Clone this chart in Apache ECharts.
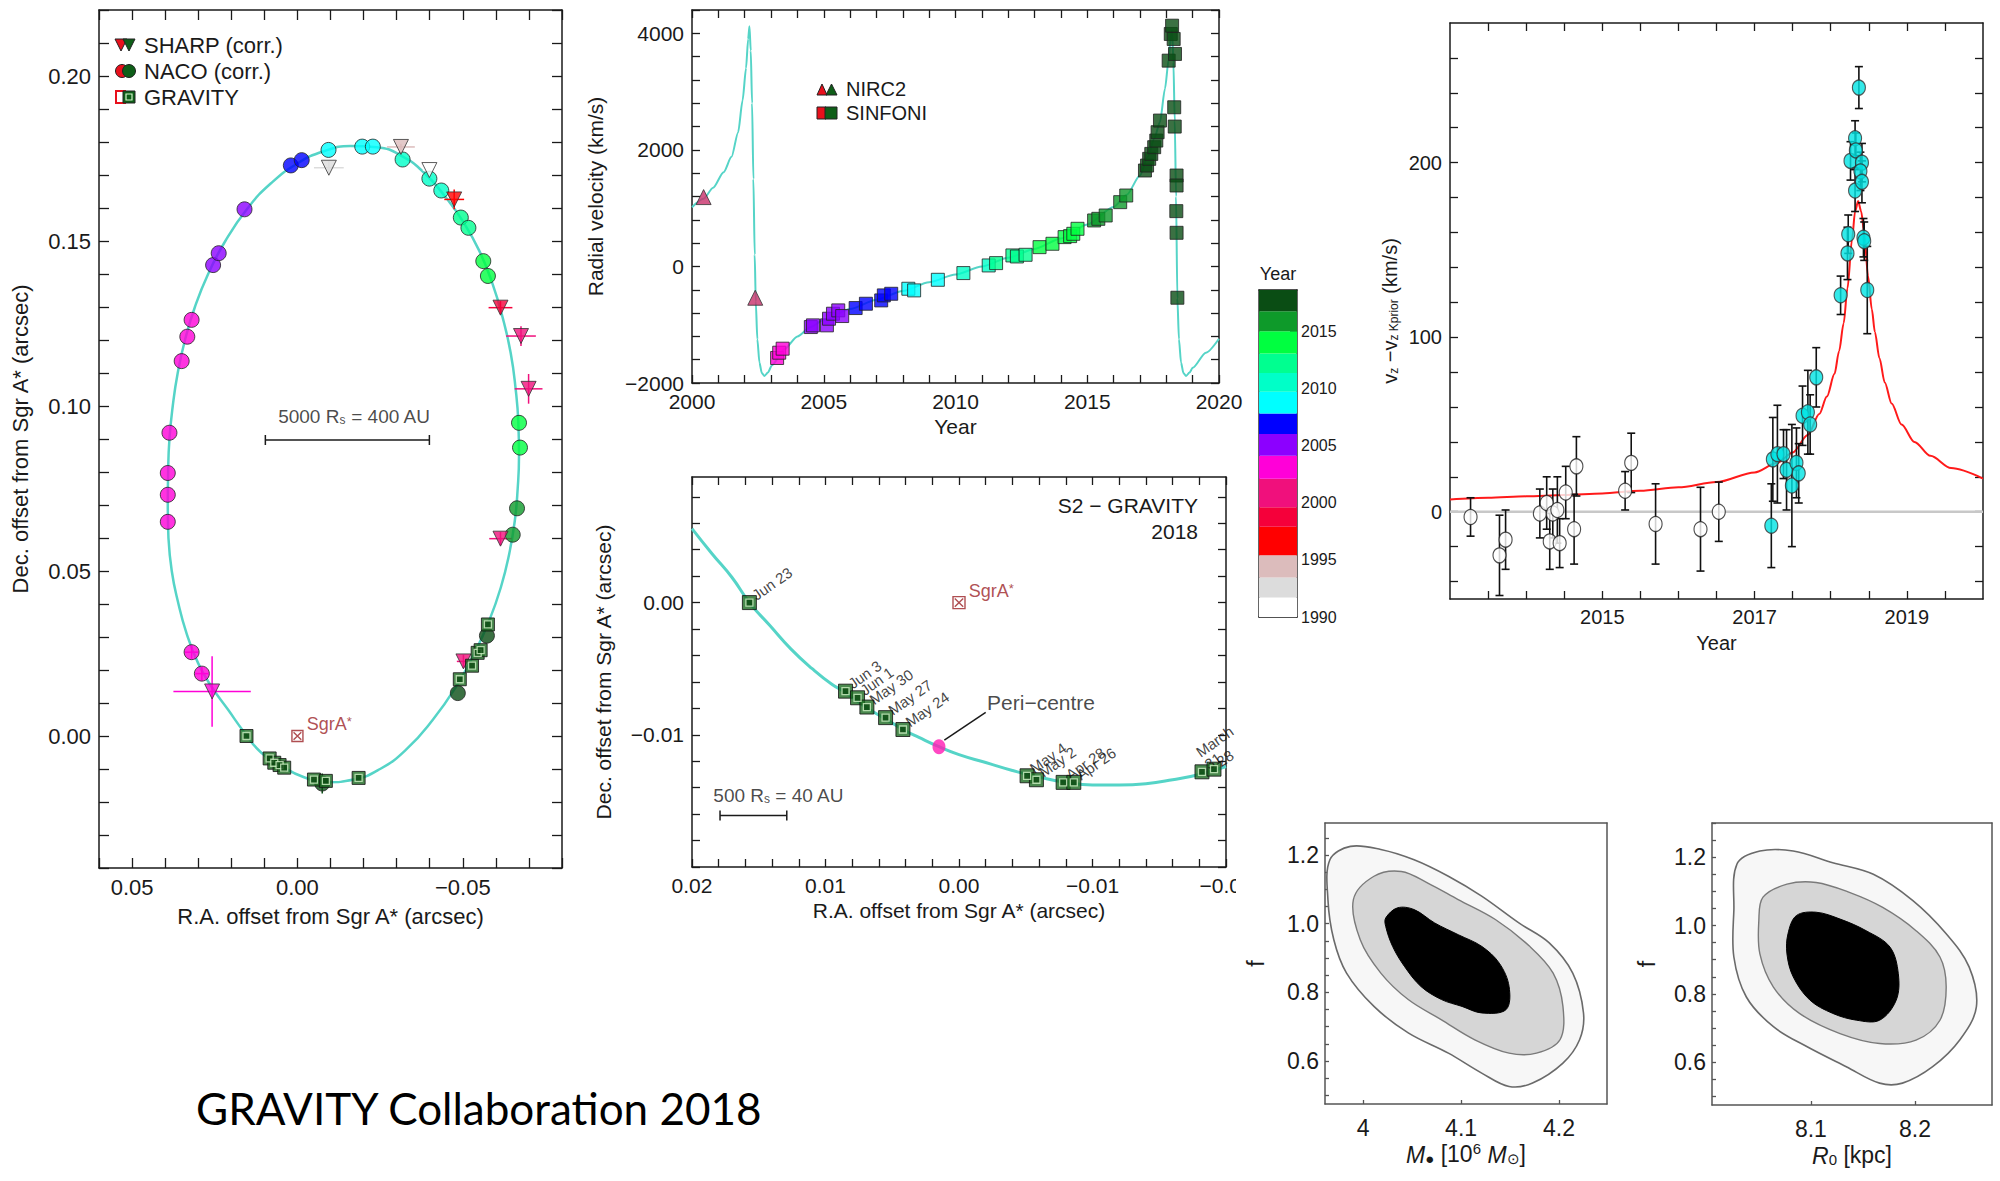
<!DOCTYPE html>
<html>
<head>
<meta charset="utf-8">
<script src="https://cdn.jsdelivr.net/npm/echarts@6/dist/echarts.min.js"></script>
<style>
  html, body { margin: 0; padding: 0; background: #fff; }
  #chart { width: 2000px; height: 1181px; }
</style>
</head>
<body>
<div id="chart"></div>
<script>
// ---- colour bar: observing year -> colour ----
var yearBands = [
  [1990, 1991.7, '#ffffff'], [1991.7, 1993.45, '#dcdcdc'], [1993.45, 1995.4, '#dcbcbc'],
  [1995.4, 1997.9, '#ff0000'], [1997.9, 1999.6, '#f5003a'], [1999.6, 2002.1, '#f0107c'],
  [2002.1, 2004.1, '#ff00d8'], [2004.1, 2006.0, '#8c00ff'], [2006.0, 2007.8, '#0000ff'],
  [2007.8, 2009.7, '#00ffff'], [2009.7, 2011.35, '#00ffc8'], [2011.35, 2013.05, '#00ff90'],
  [2013.05, 2015.0, '#00ff40'], [2015.0, 2016.75, '#0e9a2a'], [2016.75, 2018.6, '#0a4d14']
];
var yearLabels = [1990, 1995, 2000, 2005, 2010, 2015];

// ---- S2 orbit on the sky (R.A., Dec. offset in arcsec) ----
var orbitCurve = [
  [0.0390, 0.0600], [0.0392, 0.0700], [0.0391, 0.0800], [0.0387, 0.0900], [0.0377, 0.1000],
  [0.0362, 0.1100], [0.0340, 0.1200], [0.0310, 0.1300], [0.0270, 0.1400], [0.0218, 0.1500],
  [0.0150, 0.1600], [0.0080, 0.1675], [0.0000, 0.1735], [-0.0080, 0.1772], [-0.0160, 0.1788],
  [-0.0240, 0.1784], [-0.0320, 0.1755], [-0.0390, 0.1700], [-0.0450, 0.1630], [-0.0500, 0.1560],
  [-0.0550, 0.1470], [-0.0590, 0.1370], [-0.0620, 0.1270], [-0.0645, 0.1160], [-0.0660, 0.1050],
  [-0.0668, 0.0950], [-0.0670, 0.0850], [-0.0666, 0.0750], [-0.0657, 0.0650], [-0.0640, 0.0550],
  [-0.0615, 0.0450], [-0.0580, 0.0350], [-0.0535, 0.0250], [-0.0480, 0.0150], [-0.0410, 0.0050],
  [-0.0330, -0.0040], [-0.0250, -0.0100], [-0.0170, -0.0132], [-0.0090, -0.0140], [-0.0020, -0.0125],
  [0.0050, -0.0090], [0.0110, -0.0050], [0.0160, 0.0010], [0.0210, 0.0080], [0.0260, 0.0150],
  [0.0300, 0.0220], [0.0335, 0.0310], [0.0362, 0.0410], [0.0380, 0.0500], [0.0390, 0.0600]
];
// NACO: [ra, dec, year]
var nacoPoints = [
  [0.0392, 0.0649, 2002.7], [0.0392, 0.0731, 2002.8], [0.0392, 0.0797, 2003.0], [0.0387, 0.0919, 2003.3],
  [0.0350, 0.1136, 2003.5], [0.0333, 0.1210, 2003.6], [0.0320, 0.1261, 2003.7], [0.0320, 0.0254, 2002.5],
  [0.0289, 0.0189, 2002.4], [0.0255, 0.1427, 2004.4], [0.0238, 0.1463, 2004.6], [0.0160, 0.1596, 2005.4],
  [0.0020, 0.1729, 2006.5], [-0.0013, 0.1745, 2007.2], [-0.0094, 0.1776, 2008.3], [-0.0196, 0.1786, 2008.8],
  [-0.0228, 0.1786, 2009.2], [-0.0318, 0.1747, 2010.4], [-0.0399, 0.1689, 2011.0], [-0.0435, 0.1653, 2011.3],
  [-0.0494, 0.1571, 2012.2], [-0.0517, 0.1540, 2012.5], [-0.0562, 0.1439, 2013.3], [-0.0576, 0.1394, 2013.6],
  [-0.0670, 0.0949, 2014.6], [-0.0673, 0.0874, 2014.8], [-0.0664, 0.0690, 2015.6], [-0.0651, 0.0610, 2016.0],
  [-0.0573, 0.0304, 2017.2], [-0.0485, 0.0130, 2017.5], [-0.0075, -0.0144, 2018.3]
];
// error crosses on a few NACO points: [ra, dec, year, ra err, dec err]
var nacoErr = [
  [0.0320, 0.0254, 2002.5, 0.0020, 0.0020], [0.0289, 0.0189, 2002.4, 0.0020, 0.0020],
  [-0.0075, -0.0144, 2018.3, 0.0010, 0.0030]
];
// SHARP: [ra, dec, year, ra err, dec err]
var sharpPoints = [
  [-0.0095, 0.1722, 1992.6, 0.0045, 0.0020], [-0.0313, 0.1785, 1994.0, 0.0042, 0.0010],
  [-0.0399, 0.1715, 1991.0, 0.0020, 0.0010], [-0.0474, 0.1626, 1996.5, 0.0030, 0.0030],
  [-0.0614, 0.1298, 1999.0, 0.0036, 0.0020], [-0.0676, 0.1212, 1999.7, 0.0045, 0.0030],
  [-0.0699, 0.1052, 2000.0, 0.0042, 0.0045], [-0.0614, 0.0598, 2000.8, 0.0034, 0.0020],
  [-0.0502, 0.0226, 2001.6, 0.0020, 0.0020], [0.0258, 0.0135, 2002.4, 0.0117, 0.0107]
];
var gravityPoints = [
  [0.0154, 0.0000], [0.0084, -0.0068], [0.0070, -0.0081], [0.0054, -0.0088], [0.0040, -0.0096],
  [-0.0050, -0.0132], [-0.0086, -0.0136], [-0.0185, -0.0127], [-0.0491, 0.0172], [-0.0528, 0.0213],
  [-0.0545, 0.0252], [-0.0554, 0.0260], [-0.0576, 0.0338]
];
var sgrA = [[0, 0]];
var orbitScale = [[0.0097, -0.0399, 0.0897]];   // x from, x to, y
var orbitScaleText = [[-0.0172, 0.0968]];

// ---- radial velocity (year, km/s) ----
var rvModel = [
  [2000.0, 1017], [2000.44, 1160], [2000.8, 1350], [2001.2, 1617], [2001.5, 1880], [2001.75, 2300],
  [2001.92, 2850], [2002.05, 3400], [2002.13, 3900], [2002.18, 4120], [2002.23, 3700], [2002.28, 2800],
  [2002.33, 1500], [2002.38, 200], [2002.42, -600], [2002.48, -1250], [2002.56, -1650], [2002.65, -1830],
  [2002.75, -1880], [2002.88, -1820], [2003.03, -1700], [2003.5, -1420], [2004.0, -1200], [2004.5, -1040],
  [2005.0, -920], [2006.0, -730], [2007.0, -570], [2008.0, -420], [2009.0, -270], [2010.0, -140],
  [2011.0, 0], [2012.0, 150], [2013.0, 300], [2014.0, 480], [2015.0, 720], [2016.0, 1020],
  [2016.5, 1230], [2017.0, 1560], [2017.3, 1880], [2017.55, 2200], [2017.76, 2480], [2017.95, 3050],
  [2018.09, 3550], [2018.17, 3950], [2018.22, 4050], [2018.27, 3500], [2018.32, 2500], [2018.37, 1200],
  [2018.42, -550], [2018.48, -1250], [2018.56, -1650], [2018.65, -1830], [2018.75, -1880],
  [2018.88, -1820], [2019.0, -1740], [2019.5, -1480], [2020.0, -1240]
];
var rvSinfoni = [
  [2003.23, -1571], [2003.31, -1480], [2003.44, -1411], [2004.51, -1040], [2004.59, -1011],
  [2005.12, -1011], [2005.20, -897], [2005.35, -811], [2005.55, -754], [2005.70, -851],
  [2006.21, -714], [2006.60, -640], [2007.18, -583], [2007.28, -497], [2007.56, -469],
  [2008.21, -383], [2008.43, -411], [2009.33, -229], [2010.30, -114], [2011.26, 17], [2011.54, 57],
  [2012.16, 189], [2012.33, 171], [2012.66, 200], [2013.19, 331], [2013.68, 389],
  [2014.14, 503], [2014.35, 520], [2014.47, 560], [2014.63, 646], [2015.26, 789], [2015.42, 817],
  [2015.70, 874], [2016.25, 1103], [2016.48, 1217], [2017.19, 1646], [2017.27, 1731], [2017.35, 1846],
  [2017.43, 1931], [2017.54, 2046], [2017.62, 2160], [2017.67, 2303], [2017.76, 2503],
  [2018.09, 3531], [2018.17, 3989], [2018.22, 4131], [2018.28, 3903], [2018.33, 3646],
  [2018.30, 2731], [2018.32, 2400], [2018.39, 1560], [2018.39, 1389], [2018.38, 949],
  [2018.39, 577], [2018.42, -537]
];
var rvNirc2 = [[2000.44, 1190], [2002.40, -537]];

// ---- S2 2018 pericentre passage (GRAVITY) ----
var s2Curve = [
  [0.0200, 0.0056], [0.0185, 0.0037], [0.0170, 0.0019], [0.0157, 0.0000], [0.0142, -0.0017],
  [0.0126, -0.0035], [0.0110, -0.0050], [0.0095, -0.0062], [0.0085, -0.0068], [0.0070, -0.0079],
  [0.0055, -0.0088], [0.0042, -0.0096], [0.0030, -0.0102], [0.0015, -0.0109], [0.0000, -0.0115],
  [-0.0020, -0.0121], [-0.0040, -0.0127], [-0.0060, -0.0132], [-0.0080, -0.0136], [-0.0100, -0.0138],
  [-0.0120, -0.0138], [-0.0140, -0.0137], [-0.0160, -0.0134], [-0.0180, -0.0130], [-0.0200, -0.0124]
];
var s2Points = [
  [0.0157, 0.0000], [0.0085, -0.0067], [0.0076, -0.0072], [0.0069, -0.0079], [0.0055, -0.0087],
  [0.0042, -0.0096], [-0.0051, -0.0131], [-0.0058, -0.0134], [-0.0078, -0.0136], [-0.0086, -0.0136],
  [-0.0182, -0.0128], [-0.0191, -0.0126]
];
var s2Dates = ['Jun 23', 'Jun 3', 'Jun 1', 'May 30', 'May 27', 'May 24', 'May 4', 'May 2',
  'Apr 28', 'Apr 26', 'March\n31', '28'];
var pericentre = [[0.0015, -0.0109]];
var periLeader = [[0.0011, -0.0104], [-0.0020, -0.0083]];
var periText = [[-0.0021, -0.00755]];
var s2Scale = [[0.0179, 0.0129, -0.0161]];
var s2ScaleText = [[0.0184, -0.0146]];

// ---- v_z residual w.r.t. Keplerian prior (year, km/s, error) ----
var vzOpen = [
  [2013.27, -3, 11], [2013.65, -25, 23], [2013.73, -16, 17], [2014.18, -1, 14], [2014.27, 5, 15],
  [2014.31, -17, 16], [2014.35, -1, 14], [2014.41, 1, 19], [2014.44, -18, 14], [2014.52, 11, 15],
  [2014.63, -10, 20], [2014.66, 26, 17], [2015.30, 12, 11], [2015.38, 28, 17], [2015.70, -7, 23],
  [2016.29, -10, 24], [2016.53, 0, 17]
];
var vzFilled = [
  [2017.22, -8, 24], [2017.24, 30, 24], [2017.30, 33, 28], [2017.38, 33, 14], [2017.42, 24, 23],
  [2017.49, 15, 35], [2017.55, 28, 20], [2017.58, 22, 17], [2017.63, 55, 17], [2017.70, 57, 24],
  [2017.73, 50, 17], [2017.81, 77, 17], [2018.13, 124, 11], [2018.22, 148, 15], [2018.23, 159, 11],
  [2018.26, 201, 11], [2018.32, 214, 10], [2018.33, 207, 10], [2018.32, 184, 12], [2018.37, 243, 12],
  [2018.41, 200, 11], [2018.39, 195, 11], [2018.41, 189, 12], [2018.43, 157, 11], [2018.44, 155, 11],
  [2018.48, 127, 25]
];
var vzModel = [
  [2013.0, 7], [2013.5, 8], [2014.0, 8.8], [2014.5, 9.6], [2015.0, 10.5], [2015.5, 12], [2016.0, 14],
  [2016.5, 17], [2017.0, 22.5], [2017.3, 28], [2017.5, 34], [2017.7, 44], [2017.85, 56], [2017.95, 66],
  [2018.05, 79], [2018.11, 92], [2018.17, 108], [2018.22, 128], [2018.28, 156], [2018.32, 172],
  [2018.36, 178], [2018.40, 172], [2018.44, 160], [2018.49, 135], [2018.54, 116], [2018.58, 103],
  [2018.64, 88], [2018.71, 74], [2018.80, 62], [2018.93, 50], [2019.1, 40], [2019.31, 32],
  [2019.58, 25], [2020.0, 19]
];
var vzZero = [[2013, 0], [2020, 0]];

// ---- posterior contours f vs M (10^6 Msun) and f vs R0 (kpc) ----
var massOuter = [
  [3.966, 1.186], [3.987, 1.225], [4.018, 1.216], [4.052, 1.186], [4.087, 1.138], [4.121, 1.080],
  [4.159, 1.002], [4.190, 0.944], [4.214, 0.856], [4.225, 0.740], [4.221, 0.662], [4.204, 0.594],
  [4.173, 0.536], [4.149, 0.526], [4.121, 0.565], [4.087, 0.623], [4.046, 0.682], [4.011, 0.759],
  [3.983, 0.856], [3.970, 0.953], [3.964, 1.070]
];
var massGrey = [
  [3.990, 1.070], [4.011, 1.138], [4.039, 1.152], [4.066, 1.118], [4.097, 1.070], [4.135, 1.012],
  [4.170, 0.934], [4.194, 0.856], [4.204, 0.759], [4.201, 0.662], [4.177, 0.623], [4.149, 0.623],
  [4.114, 0.662], [4.080, 0.720], [4.046, 0.779], [4.018, 0.856], [3.997, 0.953]
];
var massCore = [
  [4.023, 1.0165], [4.035, 1.046], [4.052, 1.041], [4.073, 1.002], [4.097, 0.968], [4.121, 0.934],
  [4.139, 0.885], [4.149, 0.817], [4.146, 0.750], [4.121, 0.740], [4.101, 0.759], [4.080, 0.779],
  [4.059, 0.817], [4.042, 0.876], [4.030, 0.934], [4.023, 0.992]
];
var r0Outer = [
  [8.029, 1.180], [8.051, 1.218], [8.083, 1.218], [8.121, 1.184], [8.160, 1.150], [8.198, 1.073],
  [8.230, 0.976], [8.252, 0.879], [8.259, 0.762], [8.243, 0.665], [8.217, 0.587], [8.188, 0.539],
  [8.166, 0.539], [8.134, 0.587], [8.096, 0.646], [8.064, 0.704], [8.038, 0.791], [8.026, 0.908],
  [8.026, 1.044]
];
var r0Grey = [
  [8.054, 1.083], [8.077, 1.121], [8.105, 1.126], [8.137, 1.097], [8.169, 1.053], [8.201, 0.985],
  [8.224, 0.908], [8.230, 0.820], [8.224, 0.723], [8.201, 0.665], [8.166, 0.655], [8.128, 0.684],
  [8.089, 0.743], [8.064, 0.820], [8.051, 0.917], [8.050, 1.015]
];
var r0Core = [
  [8.078, 0.976], [8.086, 1.029], [8.105, 1.039], [8.128, 1.019], [8.153, 0.985], [8.176, 0.937],
  [8.184, 0.859], [8.182, 0.782], [8.166, 0.723], [8.144, 0.723], [8.121, 0.743], [8.099, 0.782],
  [8.083, 0.850], [8.077, 0.917]
];

// ---- helpers ----
var INK = '#1a1a1a';
var FONT = 'Liberation Sans';
var CURVE = '#55d4c7';

function yearColor(y) {
  for (var i = 0; i < yearBands.length; i++) {
    if (y >= yearBands[i][0] && y < yearBands[i][1]) return yearBands[i][2];
  }
  return yearBands[yearBands.length - 1][2];
}
function steps(a, b, d) {
  var out = [];
  for (var k = 0; a + k * d <= b + 1e-9; k++) out.push(+(a + k * d).toFixed(6));
  return out;
}
function fixed(d) {
  return function (v) {
    var s = (+v).toFixed(d);
    if (/^-0\.?0*$/.test(s)) s = s.slice(1);
    return s.replace('-', '\u2212');
  };
}

// one axis of a framed panel; grid g owns x axes 2g (bottom), 2g+1 (top), y axes 2g (left), 2g+1 (right)
function axis(gi, pos, o) {
  var horiz = pos === 'bottom' || pos === 'top';
  var labelPos = o.labelPos || (horiz ? 'bottom' : 'left');
  var isMain = pos === labelPos;
  var showTicks = !!o.ticks && (o.mirror !== false || isMain);
  var ax = {
    type: 'value', gridIndex: gi, position: pos,
    min: o.min, max: o.max, inverse: !!o.inverse,
    splitLine: { show: false },
    axisLine: { show: true, onZero: false, lineStyle: { color: o.lineColor || INK, width: 1.5 } },
    axisTick: { show: showTicks, inside: true, length: o.tickLen || 8, customValues: o.ticks || [],
      lineStyle: { color: o.lineColor || INK, width: 1.3 } },
    axisLabel: { show: isMain && !!o.labels, customValues: o.labels || [], formatter: o.fmt,
      fontSize: o.fontSize || 21, fontFamily: FONT, color: INK, margin: o.margin || 8 }
  };
  if (o.name && pos === (o.namePos || labelPos)) {
    ax.name = o.name;
    ax.nameLocation = 'middle';
    ax.nameGap = o.nameGap;
    ax.nameTextStyle = { fontSize: o.nameSize || o.fontSize || 21, fontFamily: FONT, color: INK, rich: o.rich };
  }
  return ax;
}

var grids = [
  { left: 99, top: 10, width: 463, height: 858 },    // sky orbit
  { left: 692, top: 10, width: 527, height: 373 },   // radial velocity
  { left: 1259, top: 290, width: 38, height: 327 },  // year colour bar
  { left: 692, top: 477, width: 534, height: 390 },  // 2018 pericentre zoom
  { left: 1450, top: 23, width: 533, height: 576 },  // vz residual
  { left: 1325, top: 823, width: 282, height: 281 }, // f vs M
  { left: 1712, top: 823, width: 280, height: 282 }  // f vs R0
];

var sub = { fontSize: 12, fontFamily: FONT, color: INK, verticalAlign: 'bottom', lineHeight: 12 };
var contourRich = {
  i: { fontSize: 23, fontStyle: 'italic', fontFamily: FONT, color: INK, verticalAlign: 'bottom', lineHeight: 25 },
  b: { fontSize: 15, fontFamily: FONT, color: INK, verticalAlign: 'bottom', lineHeight: 14 },
  p: { fontSize: 15, fontFamily: FONT, color: INK, verticalAlign: 'top', lineHeight: 14 }
};
var panels = [
  { x: { min: -0.08, max: 0.06, inverse: true, ticks: steps(-0.08, 0.06, 0.01), labels: [-0.05, 0, 0.05],
         fmt: fixed(2), fontSize: 22, tickLen: 10, name: 'R.A. offset from Sgr A* (arcsec)', nameGap: 37 },
    y: { min: -0.04, max: 0.22, ticks: steps(-0.04, 0.22, 0.01), labels: steps(0, 0.2, 0.05),
         fmt: fixed(2), fontSize: 22, tickLen: 10, name: 'Dec. offset from Sgr A* (arcsec)', nameGap: 68 } },
  { x: { min: 2000, max: 2020, ticks: steps(2000, 2020, 1), labels: steps(2000, 2020, 5),
         fmt: String, name: 'Year', nameGap: 33 },
    y: { min: -2000, max: 4400, ticks: steps(-2000, 4400, 400), labels: [-2000, 0, 2000, 4000],
         fmt: fixed(0), name: 'Radial velocity (km/s)', nameGap: 86 } },
  { x: { min: 0, max: 1, name: 'Year', namePos: 'top', nameGap: 7, fontSize: 18 },
    y: { min: 1990, max: 2018.6, labelPos: 'right', mirror: false, ticks: steps(1992.5, 2017.5, 2.5),
         labels: yearLabels, fmt: String, fontSize: 16, tickLen: 7, margin: 4, lineColor: '#333' } },
  { x: { min: -0.02, max: 0.02, inverse: true, ticks: steps(-0.02, 0.02, 0.002),
         labels: [-0.02, -0.01, 0, 0.01, 0.02], fmt: fixed(2), name: 'R.A. offset from Sgr A* (arcsec)', nameGap: 33 },
    y: { min: -0.02, max: 0.0095, ticks: steps(-0.02, 0.008, 0.002), labels: [-0.01, 0],
         fmt: fixed(2), name: 'Dec. offset from Sgr A* (arcsec)', nameGap: 78 } },
  { x: { min: 2013, max: 2020, ticks: steps(2013.5, 2019.5, 0.5), labels: [2015, 2017, 2019],
         fmt: String, fontSize: 20, name: 'Year', nameGap: 34 },
    y: { min: -50, max: 280, ticks: steps(-40, 260, 20), labels: [0, 100, 200], fmt: String, fontSize: 20,
         nameGap: 50, name: '{a|v}{b|z}{a| \u2212v}{b|z Kprior}{a| (km/s)}',
         rich: { a: { fontSize: 20, fontFamily: FONT, color: INK, verticalAlign: 'bottom', lineHeight: 22 }, b: sub } } },
  { x: { min: 3.961, max: 4.249, ticks: [4, 4.1, 4.2], labels: [4, 4.1, 4.2],
         fmt: function (v) { return String(+(+v).toFixed(1)); },
         mirror: false, tickLen: 4, margin: 12, fontSize: 23, lineColor: '#555', nameGap: 37,
         name: '{i|M}{b|\u25CF} [10{p|6} {i|M}{b|\u2299}]', rich: contourRich },
    y: { min: 0.475, max: 1.293, ticks: steps(0.5, 1.25, 0.05), labels: [0.6, 0.8, 1.0, 1.2], fmt: fixed(1),
         mirror: false, tickLen: 4, margin: 6, fontSize: 23, lineColor: '#555', name: 'f', nameGap: 58 } },
  { x: { min: 8.005, max: 8.274, ticks: [8.1, 8.2], labels: [8.1, 8.2], fmt: fixed(1),
         mirror: false, tickLen: 4, margin: 12, fontSize: 23, lineColor: '#555', nameGap: 37,
         name: '{i|R}{b|0} [kpc]', rich: contourRich },
    y: { min: 0.475, max: 1.3, ticks: steps(0.5, 1.3, 0.05), labels: [0.6, 0.8, 1.0, 1.2], fmt: fixed(1),
         mirror: false, tickLen: 4, margin: 6, fontSize: 23, lineColor: '#555', name: 'f', nameGap: 54 } }
];

var xAxes = [], yAxes = [];
panels.forEach(function (p, gi) {
  xAxes.push(axis(gi, 'bottom', p.x), axis(gi, 'top', p.x));
  yAxes.push(axis(gi, 'left', p.y), axis(gi, 'right', p.y));
});

function onGrid(gi, s) { s.xAxisIndex = 2 * gi; s.yAxisIndex = 2 * gi; return s; }

function crossRender(params, api) {
  var x = api.value(0), y = api.value(1), xe = api.value(3), ye = api.value(4);
  var c = yearColor(api.value(2));
  var l = api.coord([x - xe, y]), r = api.coord([x + xe, y]);
  var t = api.coord([x, y + ye]), b = api.coord([x, y - ye]);
  return { type: 'group', children: [
    { type: 'line', shape: { x1: l[0], y1: l[1], x2: r[0], y2: r[1] }, style: { stroke: c, lineWidth: 1.5 } },
    { type: 'line', shape: { x1: t[0], y1: t[1], x2: b[0], y2: b[1] }, style: { stroke: c, lineWidth: 1.5 } }
  ] };
}
function vErrRender(params, api) {
  var x = api.value(0), y = api.value(1), e = api.value(2);
  var t = api.coord([x, y + e]), b = api.coord([x, y - e]);
  var st = { stroke: '#111', lineWidth: 1.6 };
  return { type: 'group', children: [
    { type: 'line', shape: { x1: t[0], y1: t[1], x2: b[0], y2: b[1] }, style: st },
    { type: 'line', shape: { x1: t[0] - 4, y1: t[1], x2: t[0] + 4, y2: t[1] }, style: st },
    { type: 'line', shape: { x1: b[0] - 4, y1: b[1], x2: b[0] + 4, y2: b[1] }, style: st }
  ] };
}
function scaleBarRender(params, api) {
  var a = api.coord([api.value(0), api.value(2)]), b = api.coord([api.value(1), api.value(2)]);
  var st = { stroke: INK, lineWidth: 1.5 };
  return { type: 'group', children: [
    { type: 'line', shape: { x1: a[0], y1: a[1], x2: b[0], y2: b[1] }, style: st },
    { type: 'line', shape: { x1: a[0], y1: a[1] - 5, x2: a[0], y2: a[1] + 5 }, style: st },
    { type: 'line', shape: { x1: b[0], y1: b[1] - 5, x2: b[0], y2: b[1] + 5 }, style: st }
  ] };
}
function polygonSeries(gi, pts, style, z) {
  return onGrid(gi, { type: 'custom', z: z, silent: true, data: [pts[0]],
    renderItem: function (params, api) {
      return { type: 'polygon', shape: { points: pts.map(function (p) { return api.coord(p); }), smooth: 0.35 }, style: style };
    } });
}

var SGRA = 'path://M0,0L10,0L10,10L0,10Z M1.5,1.5L8.5,8.5 M8.5,1.5L1.5,8.5';
var sgrLabel = { show: true, position: 'right', distance: 3, offset: [0, -12], formatter: 'SgrA{s|*}',
  fontSize: 18, fontFamily: FONT, color: '#9b2226',
  rich: { s: { fontSize: 13, fontFamily: FONT, color: '#9b2226', verticalAlign: 'top', lineHeight: 12 } } };
var subRich = { s: { fontSize: 12, fontFamily: FONT, color: INK, verticalAlign: 'bottom', lineHeight: 10 } };

var series = [
  // --- sky orbit ---
  onGrid(0, { type: 'line', data: orbitCurve, smooth: true, showSymbol: false, silent: true, z: 1,
    lineStyle: { color: CURVE, width: 2.5 } }),
  onGrid(0, { type: 'custom', z: 2, silent: true, data: sharpPoints.concat(nacoErr), renderItem: crossRender }),
  onGrid(0, { type: 'scatter', z: 3, symbol: 'circle', symbolSize: 15, data: nacoPoints,
    itemStyle: { color: function (p) { return yearColor(p.value[2]); }, borderColor: '#222', borderWidth: 1 } }),
  onGrid(0, { type: 'scatter', z: 4, symbol: 'triangle', symbolRotate: 180, symbolSize: 15,
    data: sharpPoints.map(function (p) { return [p[0], p[1], p[2]]; }),
    itemStyle: { color: function (p) { return yearColor(p.value[2]); }, borderColor: '#333', borderWidth: 1 } }),
  onGrid(0, { type: 'scatter', z: 4, symbol: 'rect', symbolSize: 13, data: gravityPoints,
    itemStyle: { color: '#1d6b22', borderColor: '#111', borderWidth: 1 } }),
  onGrid(0, { type: 'scatter', z: 5, symbol: 'rect', symbolSize: 7, data: gravityPoints, silent: true,
    itemStyle: { color: '#0c4a12', borderColor: '#d2f5c8', borderWidth: 1.3 } }),
  onGrid(0, { type: 'scatter', z: 5, symbol: SGRA, symbolSize: 11, data: sgrA, label: sgrLabel,
    itemStyle: { color: 'rgba(255,255,255,0)', borderColor: '#9b2226', borderWidth: 1.4 } }),
  onGrid(0, { type: 'custom', z: 5, silent: true, data: orbitScale, renderItem: scaleBarRender }),
  onGrid(0, { type: 'scatter', symbolSize: 0, data: orbitScaleText, silent: true, z: 6,
    label: { show: true, position: 'inside', formatter: '5000 R{s|s} = 400 AU', fontSize: 19,
      fontFamily: FONT, color: INK, rich: subRich } }),

  // --- radial velocity ---
  onGrid(1, { type: 'line', data: rvModel, smooth: 0.25, smoothMonotone: 'x', showSymbol: false, silent: true, z: 1,
    lineStyle: { color: CURVE, width: 2 } }),
  onGrid(1, { type: 'scatter', z: 3, symbol: 'rect', symbolSize: 13, data: rvSinfoni,
    itemStyle: { color: function (p) { return yearColor(p.value[0]); }, borderColor: '#222', borderWidth: 1 } }),
  onGrid(1, { type: 'scatter', z: 3, symbol: 'triangle', symbolSize: 15, data: rvNirc2,
    itemStyle: { color: '#c8306a', borderColor: '#333', borderWidth: 1 } }),

  // --- colour bar ---
  onGrid(2, { type: 'custom', silent: true, z: 1,
    data: yearBands.map(function (b) { return [0, b[0], b[1]]; }), encode: { x: 0, y: [1, 2] },
    renderItem: function (params, api) {
      var p0 = api.coord([0, api.value(1)]), p1 = api.coord([1, api.value(2)]);
      return { type: 'rect', shape: { x: p0[0], y: p1[1], width: p1[0] - p0[0], height: p0[1] - p1[1] },
        style: { fill: yearBands[params.dataIndex][2] } };
    } }),

  // --- 2018 pericentre ---
  onGrid(3, { type: 'line', data: s2Curve, smooth: true, showSymbol: false, silent: true, z: 1,
    lineStyle: { color: CURVE, width: 3 } }),
  onGrid(3, { type: 'scatter', z: 3, symbol: 'rect', symbolSize: 14, data: s2Points,
    itemStyle: { color: '#1d6b22', borderColor: '#111', borderWidth: 1 },
    label: { show: true, position: 'right', distance: 1, rotate: 35, align: 'left', verticalAlign: 'bottom',
      formatter: function (p) { return s2Dates[p.dataIndex]; }, fontSize: 15, fontFamily: FONT, color: '#111', lineHeight: 15 } }),
  onGrid(3, { type: 'scatter', z: 4, symbol: 'rect', symbolSize: 7, data: s2Points, silent: true,
    itemStyle: { color: '#0c4a12', borderColor: '#d2f5c8', borderWidth: 1.3 } }),
  onGrid(3, { type: 'scatter', z: 4, symbol: 'circle', symbolSize: [13, 15], data: pericentre,
    itemStyle: { color: '#ff1ab4' } }),
  onGrid(3, { type: 'line', z: 4, data: periLeader, showSymbol: false, silent: true,
    lineStyle: { color: INK, width: 1.5 } }),
  onGrid(3, { type: 'scatter', symbolSize: 0, data: periText, silent: true,
    label: { show: true, position: 'right', distance: 0, formatter: 'Peri\u2212centre', fontSize: 21, fontFamily: FONT, color: INK } }),
  onGrid(3, { type: 'scatter', z: 5, symbol: SGRA, symbolSize: 12, data: sgrA, label: sgrLabel,
    itemStyle: { color: 'rgba(255,255,255,0)', borderColor: '#9b2226', borderWidth: 1.4 } }),
  onGrid(3, { type: 'custom', z: 5, silent: true, data: s2Scale, renderItem: scaleBarRender }),
  onGrid(3, { type: 'scatter', symbolSize: 0, data: s2ScaleText, silent: true,
    label: { show: true, position: 'right', distance: 0, formatter: '500 R{s|s} = 40 AU', fontSize: 19,
      fontFamily: FONT, color: INK, rich: subRich } }),

  // --- vz residual ---
  onGrid(4, { type: 'line', data: vzZero, showSymbol: false, silent: true, z: 1,
    lineStyle: { color: '#c8c8c8', width: 2.5 } }),
  onGrid(4, { type: 'line', data: vzModel, smooth: 0.3, smoothMonotone: 'x', showSymbol: false, silent: true, z: 2,
    lineStyle: { color: '#ff1a1a', width: 2 } }),
  onGrid(4, { type: 'custom', z: 3, silent: true, data: vzOpen.concat(vzFilled), renderItem: vErrRender }),
  onGrid(4, { type: 'scatter', z: 4, symbol: 'circle', symbolSize: [13, 15], data: vzOpen,
    itemStyle: { color: '#ffffff', borderColor: '#222', borderWidth: 1.2 } }),
  onGrid(4, { type: 'scatter', z: 4, symbol: 'circle', symbolSize: [13, 15], data: vzFilled,
    itemStyle: { color: '#00e3e3', borderColor: '#333', borderWidth: 1.2 } }),

  // --- posterior contours ---
  polygonSeries(5, massOuter, { fill: '#f7f7f7', stroke: '#6a6a6a', lineWidth: 1.6 }, 1),
  polygonSeries(5, massGrey, { fill: '#d6d6d6', stroke: '#7a7a7a', lineWidth: 1.4 }, 2),
  polygonSeries(5, massCore, { fill: '#000000', stroke: '#000000', lineWidth: 1 }, 3),
  polygonSeries(6, r0Outer, { fill: '#f7f7f7', stroke: '#6a6a6a', lineWidth: 1.6 }, 1),
  polygonSeries(6, r0Grey, { fill: '#d6d6d6', stroke: '#7a7a7a', lineWidth: 1.4 }, 2),
  polygonSeries(6, r0Core, { fill: '#000000', stroke: '#000000', lineWidth: 1 }, 3)
];

var RED = '#e8101c', DKGREEN = '#0e5e18';
function legendText(x, y, t, size, align) {
  return { type: 'text', x: x, y: y, style: { text: t, fontSize: size, fontFamily: FONT, fill: INK,
    align: align || 'left', verticalAlign: 'middle' } };
}
var graphics = [
  // sky-orbit legend
  { type: 'polygon', shape: { points: [[115, 39], [127, 39], [121, 51]] }, style: { fill: RED, stroke: '#222', lineWidth: 1 } },
  { type: 'polygon', shape: { points: [[123, 39], [135, 39], [129, 51]] }, style: { fill: DKGREEN, stroke: '#222', lineWidth: 1 } },
  legendText(144, 45, 'SHARP (corr.)', 22),
  { type: 'circle', shape: { cx: 122, cy: 71, r: 6.5 }, style: { fill: RED, stroke: '#222', lineWidth: 1 } },
  { type: 'circle', shape: { cx: 129, cy: 71, r: 6.5 }, style: { fill: DKGREEN, stroke: '#222', lineWidth: 1 } },
  legendText(144, 71, 'NACO (corr.)', 22),
  { type: 'rect', shape: { x: 116, y: 91, width: 9, height: 12 }, style: { fill: '#fff', stroke: RED, lineWidth: 2 } },
  { type: 'rect', shape: { x: 123, y: 91, width: 12, height: 12 }, style: { fill: DKGREEN, stroke: '#222', lineWidth: 1 } },
  { type: 'rect', shape: { x: 126, y: 94, width: 6, height: 6 }, style: { fill: DKGREEN, stroke: '#d2f5c8', lineWidth: 1.2 } },
  legendText(144, 97, 'GRAVITY', 22),
  // radial velocity legend
  { type: 'polygon', shape: { points: [[817, 95], [827, 95], [822, 84]] }, style: { fill: RED, stroke: '#222', lineWidth: 1 } },
  { type: 'polygon', shape: { points: [[826, 95], [837, 95], [831.5, 84]] }, style: { fill: DKGREEN, stroke: '#222', lineWidth: 1 } },
  legendText(846, 89, 'NIRC2', 20),
  { type: 'rect', shape: { x: 817, y: 107, width: 9, height: 12 }, style: { fill: RED, stroke: '#222', lineWidth: 1 } },
  { type: 'rect', shape: { x: 825, y: 107, width: 12, height: 12 }, style: { fill: DKGREEN, stroke: '#222', lineWidth: 1 } },
  legendText(846, 113, 'SINFONI', 20),
  // pericentre panel title
  legendText(1198, 505, 'S2 \u2212 GRAVITY', 21, 'right'),
  legendText(1198, 531, '2018', 21, 'right'),
  // the source figure was cropped through the last tick label
  { type: 'rect', z: 100, shape: { x: 1236, y: 872, width: 22, height: 30 }, style: { fill: '#fff' } },
  // caption
  { type: 'text', x: 196, y: 1108, style: { text: 'GRAVITY Collaboration 2018', fontSize: 44, fontFamily: 'Lato', fill: '#000', verticalAlign: 'middle' } }
];

var chart = echarts.init(document.getElementById('chart'), null, { renderer: 'svg' });
chart.setOption({
  animation: false,
  backgroundColor: '#fff',
  grid: grids,
  xAxis: xAxes,
  yAxis: yAxes,
  series: series,
  graphic: graphics
});
</script>
</body>
</html>
